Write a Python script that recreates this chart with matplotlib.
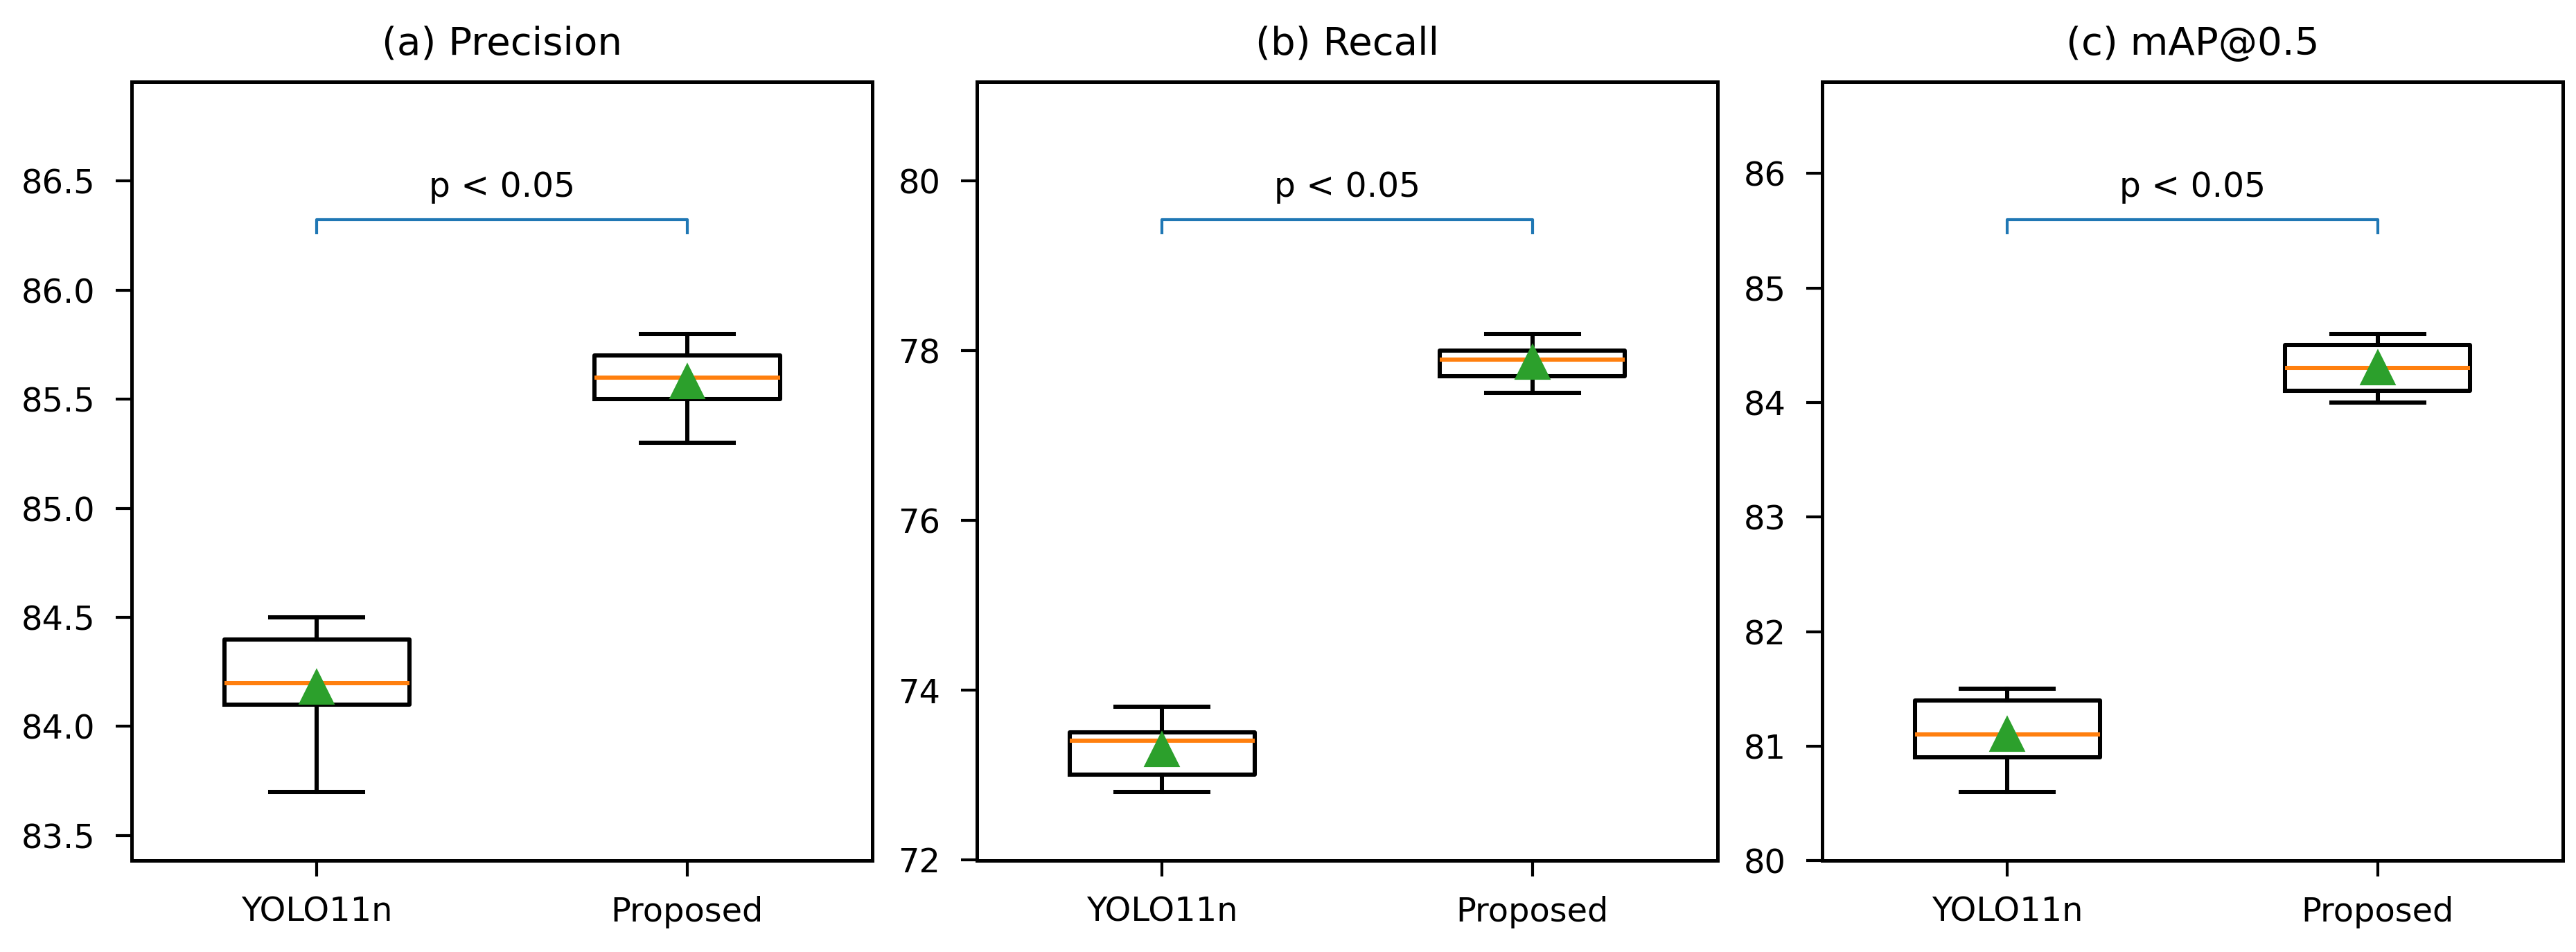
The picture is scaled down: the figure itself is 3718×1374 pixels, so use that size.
import numpy as np
import matplotlib.pyplot as plt

# five runs per model (min, q1, median, q3, max)
models = ["YOLO11n", "Proposed"]
titles = ["(a) Precision", "(b) Recall", "(c) mAP@0.5"]

precision_yolo = [83.7, 84.1, 84.2, 84.4, 84.5]
precision_prop = [85.3, 85.5, 85.6, 85.7, 85.8]
recall_yolo = [72.8, 73.0, 73.4, 73.5, 73.8]
recall_prop = [77.5, 77.7, 77.9, 78.0, 78.2]
map50_yolo = [80.6, 80.9, 81.1, 81.4, 81.5]
map50_prop = [84.0, 84.1, 84.3, 84.5, 84.6]

metrics = [
    (precision_yolo, precision_prop),
    (recall_yolo, recall_prop),
    (map50_yolo, map50_prop),
]

plt.rcParams["font.family"] = "DejaVu Sans"
plt.rcParams["axes.linewidth"] = 1.2
plt.rcParams["xtick.major.width"] = 1.0
plt.rcParams["ytick.major.width"] = 1.0
plt.rcParams["xtick.major.size"] = 5.6
plt.rcParams["ytick.major.size"] = 5.6
plt.rcParams["xtick.major.pad"] = 6.5
plt.rcParams["ytick.major.pad"] = 7.0
plt.rcParams["xtick.labelsize"] = 11.5
plt.rcParams["ytick.labelsize"] = 11.5

fig, axes = plt.subplots(1, 3, figsize=(3718 / 300, 1374 / 300), dpi=300)
fig.subplots_adjust(left=0.0511, right=0.9949, top=0.914, bottom=0.096, wspace=0.141)

line = dict(color="black", linewidth=1.45)
for ax, title, (a, b) in zip(axes, titles, metrics):
    ax.boxplot(
        [a, b],
        widths=0.5,
        showmeans=True,
        boxprops=line,
        whiskerprops=line,
        capprops=line,
        medianprops=dict(color="C1", linewidth=1.45),
        meanprops=dict(marker="^", markerfacecolor="C2", markeredgecolor="C2",
                       markersize=11),
    )
    ax.set_xticks([1, 2])
    ax.set_xticklabels(models)
    ax.set_title(title, fontsize=13.5, pad=9.5)

    # significance bracket above both boxes
    lo = min(min(a), min(b))
    hi = max(max(a), max(b))
    span = hi - lo
    y = hi + 0.25 * span
    h = 0.03 * span
    ax.plot([1, 1, 2, 2], [y - h, y, y, y - h], color="C0", linewidth=1.0)
    ax.text(1.5, y + 0.034 * span, "p < 0.05", ha="center", va="bottom", fontsize=11.7)
    ax.set_ylim(lo - 0.15 * span, hi + 0.55 * span)

fig.savefig("out.png", dpi=300)
